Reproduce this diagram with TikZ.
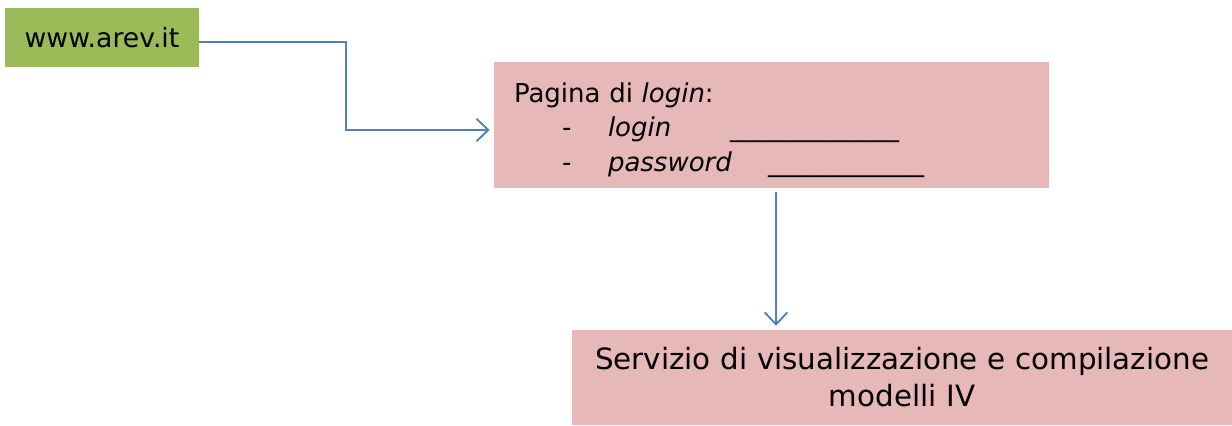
\documentclass[tikz,border=0pt]{standalone}
\usepackage{fontspec}
\setmainfont{DejaVu Sans}
\usetikzlibrary{arrows.meta}
\definecolor{webgreen}{RGB}{155,187,89}
\definecolor{boxpink}{RGB}{230,184,183}
\definecolor{linkblue}{RGB}{79,129,189}
\tikzset{
  conn/.style={draw=linkblue,line width=1.4pt,
    -{Straight Barb[length=9pt,width=17pt,line width=1.4pt]}}
}
\newcommand{\field}[3]{\hspace*{36pt}\makebox[34.5pt][l]{-}\makebox[#2][l]{\textit{#1}}#3}

\begin{document}
\begin{tikzpicture}[x=0.75pt,y=-0.75pt,
  box/.style={fill=#1,inner sep=0pt,text=black},
  font=\fontsize{19.5}{26}\selectfont]
  \useasboundingbox (0,0) rectangle (1232,425);

  \node (web) at (102,37.5) [box=webgreen,minimum width=145.5pt,minimum height=44.25pt,
    font=\fontsize{20}{24}\selectfont]{www.arev.it};

  \node (login) at (771.5,125) [box=boxpink,minimum width=416.25pt,minimum height=94.5pt,
    inner xsep=15pt,text width=386.25pt,align=left]
    {\rule{0pt}{22.3pt}Pagina di \textit{login}:\\
     \field{login}{91.5pt}{\_\_\_\_\_\_\_\_\_\_\_\_\_}\\
     \field{password}{120pt}{\_\_\_\_\_\_\_\_\_\_\_\_}};

  \node (serv) at (902,377.5) [box=boxpink,minimum width=495pt,minimum height=71.25pt,
    text width=480pt,align=center,font=\fontsize{22}{27.7}\selectfont]
    {Servizio di visualizzazione e compilazione\\modelli IV};

  % collegamenti
  \draw[conn] ([yshift=-3.4pt]web.east) -| ([xshift=-111pt]login.west) |- ([xshift=-3pt,yshift=-3.75pt]login.west);
  \draw[conn] ([xshift=3.4pt,yshift=-3pt]login.south) -- ([xshift=3.4pt,yshift=3pt]login.south |- serv.north);

\end{tikzpicture}
\end{document}
